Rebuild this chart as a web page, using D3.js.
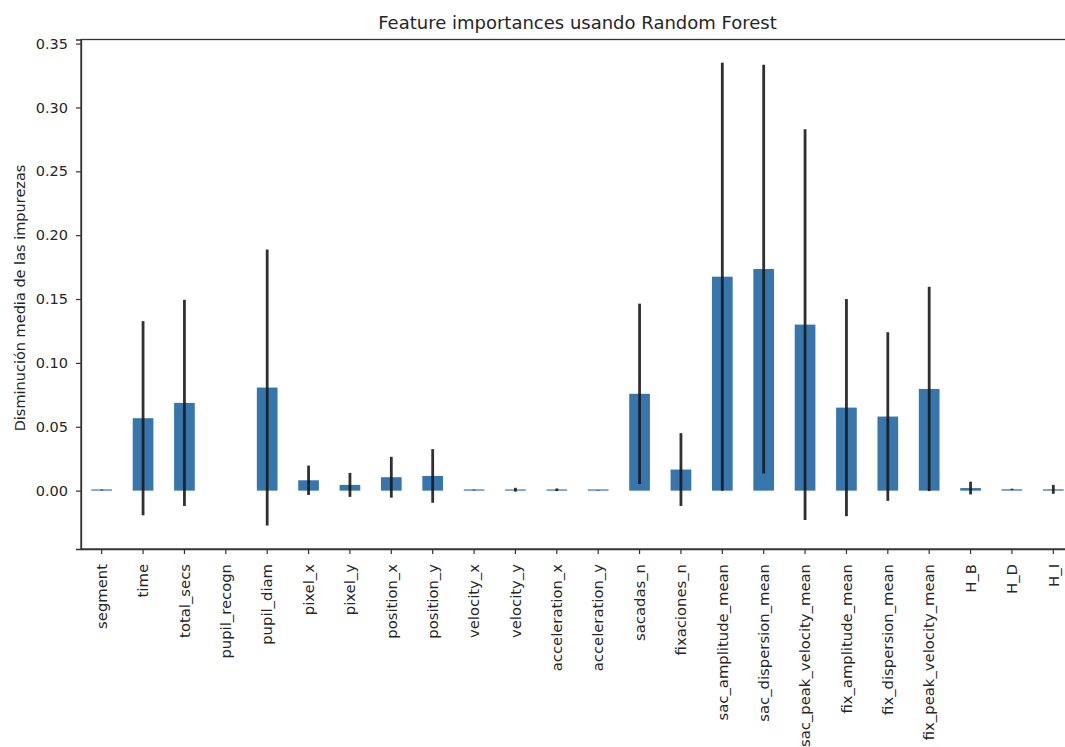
<!DOCTYPE html>
<html>
<head>
<meta charset="utf-8">
<script src="https://cdn.jsdelivr.net/npm/d3@7"></script>
<style>
  body { margin: 0; background: #fff; }
  svg { display: block; font-family: "DejaVu Sans", sans-serif; }
</style>
</head>
<body>
<svg id="chart" width="1065" height="747"></svg>
<script>
const features = [
  "segment", "time", "total_secs", "pupil_recogn", "pupil_diam", "pixel_x",
  "pixel_y", "position_x", "position_y", "velocity_x", "velocity_y",
  "acceleration_x", "acceleration_y", "sacadas_n", "fixaciones_n",
  "sac_amplitude_mean", "sac_dispersion_mean", "sac_peak_velocity_mean",
  "fix_amplitude_mean", "fix_dispersion_mean", "fix_peak_velocity_mean",
  "H_B", "H_D", "H_I",
];
const importances = [
  0.0005, 0.0567, 0.0687, 0.0, 0.0807, 0.0081, 0.0045, 0.0105, 0.0115,
  0.0005, 0.0007, 0.0007, 0.0003, 0.0758, 0.0165, 0.1675, 0.1735, 0.13,
  0.065, 0.058, 0.0796, 0.002, 0.001, 0.001,
];
const stds = [
  0.0003, 0.076, 0.0807, 0.0, 0.108, 0.0115, 0.0094, 0.016, 0.021,
  0.0003, 0.0015, 0.001, 0.0002, 0.0706, 0.0285, 0.1675, 0.16, 0.153,
  0.085, 0.066, 0.08, 0.005, 0.0005, 0.0035,
];
const yTicks = [0, 0.05, 0.1, 0.15, 0.2, 0.25, 0.3, 0.35];

const data = features.map((f, i) => ({ name: f, value: importances[i], err: stds[i] }));

const margin = { top: 39.5, right: 1074, bottom: 549, left: 81 };
const textColor = "#262626";

const x = d3
  .scaleBand()
  .domain(features)
  .range([margin.left, margin.right])
  .paddingInner(0.5)
  .paddingOuter(0.25);

const y = d3
  .scaleLinear()
  .domain([-0.0457, 0.3532])
  .range([margin.bottom, margin.top]);

const svg = d3.select("#chart");

svg.append("rect").attr("width", 1065).attr("height", 747).attr("fill", "#fff");

// bars (tiny values still show as a thin line, zero shows nothing)
svg
  .selectAll("rect.bar")
  .data(data.filter((d) => d.value > 0))
  .join("rect")
  .attr("class", "bar")
  .attr("x", (d) => x(d.name))
  .attr("width", x.bandwidth())
  .attr("y", (d) => Math.min(y(d.value), y(0) - 1.2))
  .attr("height", (d) => Math.max(y(0) - y(d.value), 1.2))
  .attr("fill", "#3776ad");

// error bars
svg
  .selectAll("line.err")
  .data(data.filter((d) => d.err > 0))
  .join("line")
  .attr("class", "err")
  .attr("x1", (d) => x(d.name) + x.bandwidth() / 2)
  .attr("x2", (d) => x(d.name) + x.bandwidth() / 2)
  .attr("y1", (d) => y(d.value - d.err))
  .attr("y2", (d) => y(d.value + d.err))
  .attr("stroke", "#1a1a1a")
  .attr("stroke-opacity", 0.9)
  .attr("stroke-width", 2.8);

// frame (top / right spines)
svg
  .append("rect")
  .attr("x", margin.left)
  .attr("y", margin.top)
  .attr("width", margin.right - margin.left)
  .attr("height", margin.bottom - margin.top)
  .attr("fill", "none")
  .attr("stroke", "#333")
  .attr("stroke-width", 1.3);

// Y axis
const yAxis = svg
  .append("g")
  .attr("transform", `translate(${margin.left},0)`)
  .call(d3.axisLeft(y).tickValues(yTicks).tickFormat(d3.format(".2f")).tickSize(5).tickPadding(8));
yAxis.select(".domain").attr("stroke", "#333").attr("stroke-width", 1.3);
yAxis.selectAll(".tick line").attr("stroke", "#333").attr("stroke-width", 1.2);
yAxis
  .selectAll(".tick text")
  .attr("fill", textColor)
  .style("font-size", "14.5px")
  .style("font-family", "DejaVu Sans");

// X axis
const xAxis = svg
  .append("g")
  .attr("transform", `translate(0,${margin.bottom})`)
  .call(d3.axisBottom(x).tickSize(5).tickSizeOuter(0));
xAxis.select(".domain").attr("stroke", "#333").attr("stroke-width", 1.3);
xAxis.selectAll(".tick line").attr("stroke", "#333").attr("stroke-width", 1.2);
xAxis
  .selectAll(".tick text")
  .attr("transform", "rotate(-90)")
  .attr("text-anchor", "end")
  .attr("x", -15)
  .attr("y", 0)
  .attr("dy", "0.35em")
  .attr("fill", textColor)
  .style("font-size", "14.8px")
  .style("font-family", "DejaVu Sans");

// Y axis label
svg
  .append("text")
  .attr("text-anchor", "middle")
  .attr("transform", "rotate(-90)")
  .attr("x", -298)
  .attr("y", 25)
  .attr("fill", textColor)
  .style("font-size", "14.5px")
  .text("Disminución media de las impurezas");

// Title
svg
  .append("text")
  .attr("x", (margin.left + margin.right) / 2)
  .attr("y", 29)
  .attr("text-anchor", "middle")
  .attr("fill", textColor)
  .style("font-size", "18px")
  .text("Feature importances usando Random Forest");
</script>
</body>
</html>
